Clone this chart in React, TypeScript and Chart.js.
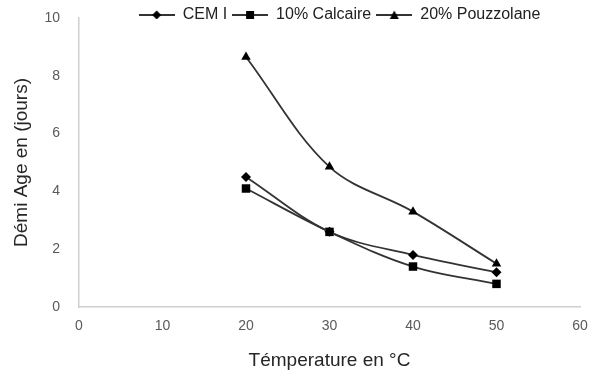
import React, { useEffect, useRef } from "react";
import { Chart, registerables } from "chart.js";

Chart.register(...registerables);

const temperatures = [20, 30, 40, 50];
const cemI = [4.5, 2.6, 1.8, 1.2];
const calcaire = [4.1, 2.6, 1.4, 0.8];
const pouzzolane = [8.65, 4.85, 3.3, 1.5];
const seriesNames = ["CEM I", "10% Calcaire", "20% Pouzzolane"];
const seriesStyles = ["rectRot", "rect", "triangle"];

const FONT = "'Liberation Sans', Arial, sans-serif";
const LINE = "#333333";

function legendIcon(style: string): HTMLCanvasElement {
  const c = document.createElement("canvas");
  c.width = 36;
  c.height = 12;
  const ctx = c.getContext("2d")!;
  ctx.strokeStyle = LINE;
  ctx.lineWidth = 1.8;
  ctx.beginPath();
  ctx.moveTo(0, 6);
  ctx.lineTo(36, 6);
  ctx.stroke();
  ctx.fillStyle = "#000";
  ctx.beginPath();
  if (style === "rectRot") {
    ctx.moveTo(18, 1.5);
    ctx.lineTo(22.5, 6);
    ctx.lineTo(18, 10.5);
    ctx.lineTo(13.5, 6);
  } else if (style === "rect") {
    ctx.rect(14, 2, 8, 8);
  } else {
    ctx.moveTo(18, 1.5);
    ctx.lineTo(22.5, 10);
    ctx.lineTo(13.5, 10);
  }
  ctx.closePath();
  ctx.fill();
  return c;
}

const legendShift = {
  id: "legendShift",
  afterLayout(chart: any) {
    if (chart.legend) {
      chart.legend.left += 10;
      chart.legend.right += 10;
      chart.legend.top += 1;
      chart.legend.bottom += 1;
    }
  },
};

export default function App() {
  const ref = useRef<HTMLCanvasElement | null>(null);
  useEffect(() => {
    if (!ref.current) return;
    const seriesValues = [cemI, calcaire, pouzzolane];
    const radii = [5, 6, 5.5];
    const chart = new Chart(ref.current, {
      type: "line",
      data: {
        datasets: seriesNames.map((name, i) => ({
          label: name,
          data: temperatures.map((t, j) => ({ x: t, y: seriesValues[i][j] })),
          borderColor: LINE,
          borderWidth: 1.8,
          backgroundColor: "#000",
          pointBackgroundColor: "#000",
          pointBorderColor: "#000",
          pointBorderWidth: 0,
          pointStyle: seriesStyles[i] as any,
          pointRadius: radii[i],
          tension: 0.35,
          fill: false,
        })),
      },
      plugins: [legendShift],
      options: {
        responsive: false,
        animation: false,
        layout: { padding: { top: 1, right: 10, bottom: 0, left: 0 } },
        plugins: {
          tooltip: { enabled: false },
          legend: {
            position: "top",
            fullSize: false,
            maxHeight: 17,
            labels: {
              usePointStyle: true,
              pointStyleWidth: 36,
              padding: 5,
              color: "#222",
              font: { family: FONT, size: 16 },
              generateLabels: (ch: any) =>
                ch.data.datasets.map((d: any, i: number) => ({
                  text: d.label,
                  pointStyle: legendIcon(seriesStyles[i]),
                  fillStyle: "#000",
                  strokeStyle: "#000",
                  lineWidth: 0,
                  fontColor: "#222",
                  datasetIndex: i,
                  hidden: false,
                })),
            },
          },
        },
        scales: {
          x: {
            type: "linear",
            min: 0,
            max: 60,
            afterFit: (s: any) => {
              s.height = 67;
              s.paddingRight = 0;
              s.paddingLeft = 0;
            },
            ticks: {
              stepSize: 10,
              padding: 11,
              color: "#595959",
              font: { family: FONT, size: 14 },
            },
            grid: { display: false, drawTicks: false },
            border: { display: true, color: "#cfcfcf", width: 1.5 },
            title: {
              display: true,
              text: "Témperature en °C",
              color: "#262626",
              font: { family: FONT, size: 19 },
              padding: { top: 0, bottom: 2 },
            },
          },
          y: {
            min: 0,
            max: 10,
            afterFit: (s: any) => {
              s.width = 79;
              s.paddingTop = 0;
              s.paddingBottom = 0;
            },
            ticks: {
              stepSize: 2,
              padding: 19,
              color: "#595959",
              font: { family: FONT, size: 14 },
            },
            grid: { display: false, drawTicks: false },
            border: { display: true, color: "#cfcfcf", width: 1.5 },
            title: {
              display: true,
              text: "Démi Age en (jours)",
              color: "#262626",
              font: { family: FONT, size: 19 },
              padding: { top: 10, bottom: 0 },
            },
          },
        },
      },
    });
    return () => chart.destroy();
  }, []);
  return (
    <div style={{ position: "fixed", left: 0, top: 0, width: 590, height: 374, background: "#fff" }}>
      <canvas ref={ref} width={590} height={374} />
    </div>
  );
}
